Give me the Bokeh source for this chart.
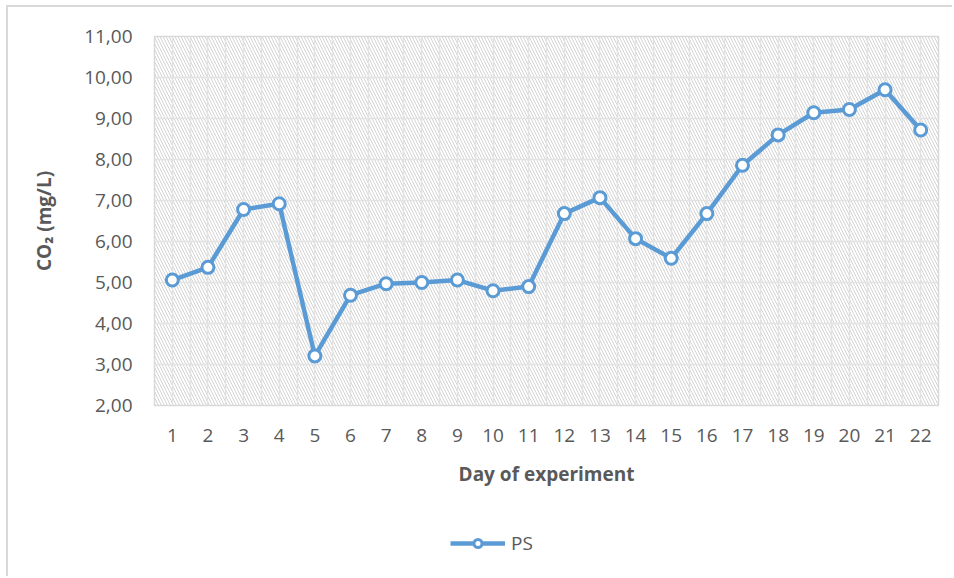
from bokeh.plotting import figure
from bokeh.models import (Range1d, FixedTicker, BoxAnnotation, Legend, LegendItem)
from bokeh.layouts import column
from bokeh.embed import file_html
from bokeh.resources import INLINE

days = list(range(1, 23))
co2 = [5.06, 5.37, 6.78, 6.92, 3.21, 4.69, 4.97, 5.00, 5.06, 4.80, 4.90, 6.68,
       7.07, 6.07, 5.59, 6.68, 7.86, 8.60, 9.14, 9.22, 9.70, 8.72]
series_name = "PS"
x_tick_labels = [str(d) for d in days]
y_ticks = [2, 3, 4, 5, 6, 7, 8, 9, 10, 11]
y_tick_labels = ["2,00", "3,00", "4,00", "5,00", "6,00", "7,00", "8,00", "9,00", "10,00", "11,00"]
x_title = "Day of experiment"
y_title = "CO\u2082 (mg/L)"

FONT = "Open Sans"
GRAY = "#595959"
BLUE = "#5b9bd5"
BORDER = "2px solid #d9d9d9"

p = figure(width=946, height=491, output_backend="svg", toolbar_location=None,
           x_range=Range1d(0.5, 22.5), y_range=Range1d(2, 11),
           min_border_left=146, min_border_right=16, min_border_top=29,
           min_border_bottom=93,
           styles={"margin-left": "6px", "margin-top": "5px",
                   "border-left": BORDER, "border-top": BORDER})

p.outline_line_color = "#d9d9d9"
p.outline_line_width = 1.5

# hatch background
hatch = BoxAnnotation(fill_alpha=0, line_color=None, hatch_pattern="\\",
                      hatch_color="#d3d3d3", hatch_scale=6, hatch_weight=1.0,
                      level="image")
p.add_layout(hatch)

# axes
p.xaxis.ticker = FixedTicker(ticks=days)
p.xaxis.major_label_overrides = {d: lab for d, lab in zip(days, x_tick_labels)}
p.yaxis.ticker = FixedTicker(ticks=y_ticks)
p.yaxis.major_label_overrides = {t: lab for t, lab in zip(y_ticks, y_tick_labels)}
for ax in (p.xaxis[0], p.yaxis[0]):
    ax.axis_line_color = None
    ax.major_tick_line_color = None
    ax.minor_tick_line_color = None
    ax.major_tick_out = 0
    ax.major_tick_in = 0
    ax.major_label_text_font = FONT
    ax.major_label_text_font_size = "19px"
    ax.major_label_text_color = GRAY
    ax.axis_label_text_font = FONT
    ax.axis_label_text_font_size = "19px"
    ax.axis_label_text_font_style = "bold"
    ax.axis_label_text_color = GRAY
p.xaxis.axis_label = x_title
p.yaxis.axis_label = y_title
p.xaxis.major_label_standoff = 23
p.xaxis.axis_label_standoff = 16
p.yaxis.major_label_standoff = 22
p.yaxis.axis_label_standoff = 24

# grids
half_steps = [d - 0.5 for d in days] + days + [days[-1] + 0.5]
p.xgrid.ticker = FixedTicker(ticks=sorted(half_steps))
p.ygrid.ticker = FixedTicker(ticks=y_ticks)
p.xgrid.grid_line_color = "#e3e3e3"
p.ygrid.grid_line_color = "#e3e3e3"
p.xgrid.grid_line_width = 1.5
p.ygrid.grid_line_width = 1.5

p.line(days, co2, line_color=BLUE, line_width=4.5)
p.scatter(days, co2, marker="circle", size=12, fill_color="white",
          line_color=BLUE, line_width=3)

# legend strip below the chart (series drawn out of view, only the legend shows)
lf = figure(width=946, height=80, output_backend="svg", toolbar_location=None,
            x_range=Range1d(-3, -2), y_range=Range1d(-3, -2),
            min_border=0, styles={"margin-left": "6px", "border-left": BORDER})
lf.axis.visible = False
lf.grid.visible = False
lf.outline_line_color = None
lf_ln = lf.line(days, co2, line_color=BLUE, line_width=4.5)
lf_sc = lf.scatter(days, co2, marker="circle", size=12, fill_color="white",
                   line_color=BLUE, line_width=3)
legend = Legend(items=[LegendItem(label=series_name, renderers=[lf_ln, lf_sc])],
                location=(296, 20), orientation="horizontal",
                border_line_color=None, background_fill_alpha=0,
                padding=0, margin=0, glyph_width=55, glyph_height=20,
                label_text_font=FONT, label_text_font_size="19px",
                label_text_color=GRAY, label_standoff=6)
lf.add_layout(legend)

layout = column(p, lf, spacing=0)
open("out.html", "w").write(file_html(layout, INLINE))
